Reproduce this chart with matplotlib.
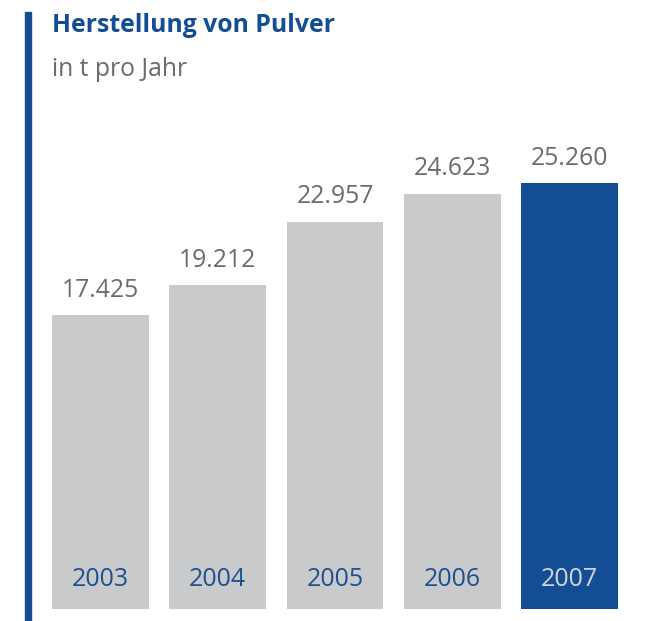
import matplotlib
matplotlib.use('Agg')
import matplotlib.pyplot as plt
from matplotlib.patches import Rectangle

years = ['2003', '2004', '2005', '2006', '2007']
values = [17425, 19212, 22957, 24623, 25260]
value_labels = ['17.425', '19.212', '22.957', '24.623', '25.260']

blue = '#134d93'
grey_bar = '#c9cacc'
grey_text = '#6b6b6d'

plt.rcParams['font.family'] = ['Open Sans', 'DejaVu Sans']

W, H = 646, 621
fig = plt.figure(figsize=(W / 100, H / 100), dpi=100)

# axes placed so bars land where they are in the picture
ax = fig.add_axes([41.9 / W, 12 / H, 586.2 / W, 505.9 / H])
colors = [grey_bar] * 4 + [blue]
x = list(range(len(years)))
ax.bar(x, values, width=0.827, color=colors)
ax.set_xlim(-0.5, 4.5)
ax.set_ylim(0, 30000)
ax.axis('off')

for i, (v, lab) in enumerate(zip(values, value_labels)):
    ax.annotate(lab, (i, v), xytext=(0, 25), textcoords='offset pixels',
                ha='center', va='center', fontsize=17.8, color=grey_text)
    ycol = '#d4d5d7' if i == 4 else '#1f4f8f'
    ax.annotate(years[i], (i, 0), xytext=(0, 29), textcoords='offset pixels',
                ha='center', va='center', fontsize=18, color=ycol)

# left accent bar
fig.patches.append(Rectangle((25 / W, 0), 6 / W, 1 - 12 / H,
                             transform=fig.transFigure, color=blue))

fig.text(52 / W, 1 - 25 / H, 'Herstellung von Pulver', fontsize=17.8,
         fontweight='bold', color=blue, ha='left', va='center')
fig.text(52 / W, 1 - 70 / H, 'in t pro Jahr', fontsize=17.8,
         color=grey_text, ha='left', va='center')

fig.savefig('out.png', dpi=100)
